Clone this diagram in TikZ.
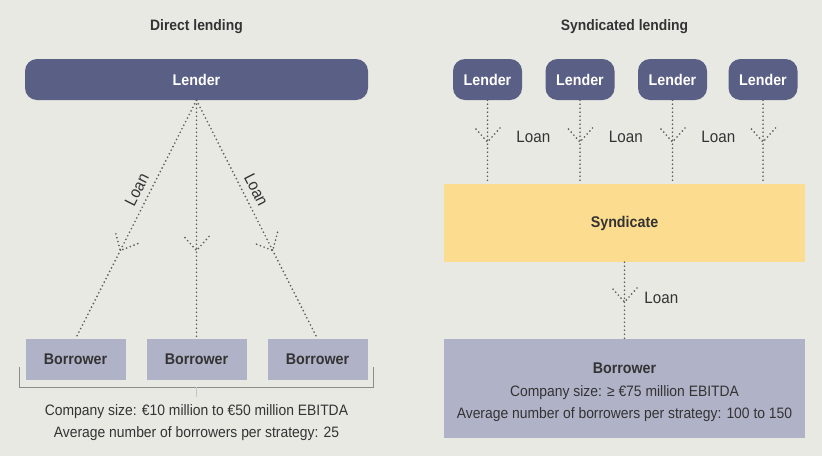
\documentclass[tikz,border=0pt]{standalone}
\usepackage{fontspec}
\setmainfont{Liberation Sans}[FakeStretch=0.92]
\usetikzlibrary{decorations.markings}

\definecolor{pagebg}{HTML}{E9E9E4}
\definecolor{lenderblue}{HTML}{5A5F85}
\definecolor{borrowerlav}{HTML}{B0B2C8}
\definecolor{syndyellow}{HTML}{FCDC8E}
\definecolor{inkgray}{HTML}{333333}
\definecolor{dotgray}{HTML}{5E5E5E}
\definecolor{bracketgray}{HTML}{8C8C8C}

\tikzset{
  lenderbox/.style={fill=lenderblue, rounded corners=12pt, text=white,
    font=\fontsize{15.5}{18}\selectfont\bfseries, inner sep=0pt, minimum height=41pt},
  borrowerbox/.style={fill=borrowerlav, text=inkgray,
    font=\fontsize{15.5}{18}\selectfont\bfseries, inner sep=0pt, minimum height=41pt, minimum width=100pt},
  titletext/.style={text=inkgray, font=\fontsize{15.1}{18}\selectfont\bfseries},
  infotext/.style={text=inkgray, font=\fontsize{15.1}{22.5}\selectfont, align=center},
  loanlbl/.style={text=inkgray, font=\fontsize{16.5}{18}\selectfont, inner sep=2pt},
  dotline/.style={draw=dotgray, line width=1.9pt, line cap=round, dash pattern=on 0pt off 4pt},
  loanflow/.style={dotline, postaction={decorate},
    decoration={markings, mark=at position #1 with {
      \draw[dotline] (-14pt,12.5pt) -- (0pt,0pt) -- (-14pt,-12.5pt);}}},
}

\begin{document}
\begin{tikzpicture}[x=1pt,y=-1pt]
  \fill[pagebg] (0,0) rectangle (822,456);
  \useasboundingbox (0,0) rectangle (822,456);

  % ---------------- Direct lending ----------------
  \node[titletext] (dtitle) at (196.5,27) {Direct lending};
  \node[lenderbox, minimum width=343pt] (L0) at (196.5,79.5) {Lender};

  \node[borrowerbox] (b1) at (75.5,359.5) {Borrower};
  \node[borrowerbox] (b2) at (196.5,359.5) {Borrower};
  \node[borrowerbox] (b3) at (317.5,359.5) {Borrower};

  \draw[loanflow=0.63] (L0.south) -- (b1.north)
    node[pos=0.40, sloped, above=4pt, loanlbl] {Loan};
  \draw[loanflow=0.63] (L0.south) -- (b2.north);
  \draw[loanflow=0.63] (L0.south) -- (b3.north)
    node[pos=0.40, sloped, above=4pt, loanlbl] {Loan};

  % bracket grouping the borrowers
  \draw[bracketgray, line width=1pt] (19,367) -- (19,387) -- (373,387) -- (373,367);
  \draw[bracketgray!50, line width=1pt] (196.5,387) -- (196.5,397);

  \node[infotext] (dinfo) at (196.5,422.5)
    {Company size: €10 million to €50 million EBITDA\\
     Average number of borrowers per strategy: 25};

  % ---------------- Syndicated lending ----------------
  \node[titletext] (stitle) at (624.5,27) {Syndicated lending};

  \node[lenderbox, minimum width=69pt] (L1) at (487.5,79.5) {Lender};
  \node[lenderbox, minimum width=69pt] (L2) at (580,79.5) {Lender};
  \node[lenderbox, minimum width=69pt] (L3) at (672.5,79.5) {Lender};
  \node[lenderbox, minimum width=69pt] (L4) at (763,79.5) {Lender};

  \node[fill=syndyellow, text=inkgray, font=\fontsize{15.5}{18}\selectfont\bfseries,
        minimum width=361pt, minimum height=78pt, inner sep=0pt] (S) at (624.5,223) {Syndicate};

  \draw[loanflow=0.5] (L1.south) -- (L1.south |- S.north)
    node[pos=0.44, right=26pt, loanlbl] {Loan};
  \draw[loanflow=0.5] (L2.south) -- (L2.south |- S.north)
    node[pos=0.44, right=26pt, loanlbl] {Loan};
  \draw[loanflow=0.5] (L3.south) -- (L3.south |- S.north)
    node[pos=0.44, right=26pt, loanlbl] {Loan};
  \draw[loanflow=0.5] (L4.south) -- (L4.south |- S.north);

  % single large borrower with its details
  \node[fill=borrowerlav, minimum width=361pt, minimum height=99pt, inner sep=0pt] (B) at (624.5,388.5) {};
  \node[infotext] (binfo) at ([yshift=-4pt]B.center)
    {{\fontsize{15.5}{18}\selectfont\bfseries Borrower}\\
     Company size: ≥ €75 million EBITDA\\
     Average number of borrowers per strategy: 100 to 150};

  \draw[loanflow=0.52] (S.south) -- (B.north)
    node[pos=0.47, right=17pt, loanlbl] {Loan};
\end{tikzpicture}
\end{document}
